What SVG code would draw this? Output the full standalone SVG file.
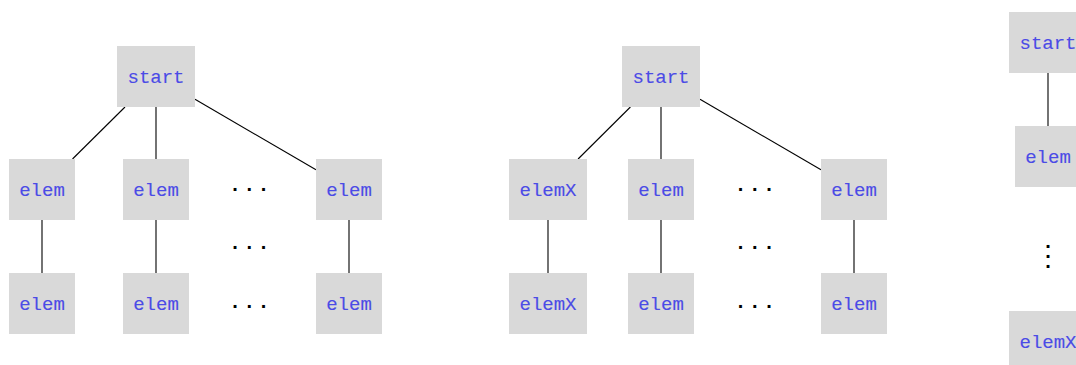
<svg xmlns="http://www.w3.org/2000/svg" width="1076" height="365" viewBox="0 0 1076 365">
  <style>
    .box { fill: #d9d9d9; stroke: none; }
    .lbl { font-family: "Liberation Mono", "Courier New", monospace; font-size: 19px; fill: #4b4be6; stroke: #4b4be6; stroke-width: 0.12; text-anchor: middle; }
    .edge { stroke: #000; stroke-width: 1.1; fill: none; }
    .dots { font-family: "Liberation Sans", Arial, sans-serif; font-size: 20px; font-weight: bold; fill: #000; text-anchor: middle; }
  </style>
  <rect width="1076" height="365" fill="#fff"/>

  <!-- connectors -->
  <g id="connectors" class="edge">
    <!-- left tree -->
    <line x1="125" y1="107" x2="72.5" y2="159"/>
    <line x1="156" y1="107" x2="156" y2="159"/>
    <line x1="195" y1="99.2" x2="316" y2="169.8"/>
    <line x1="42" y1="220" x2="42" y2="273"/>
    <line x1="156" y1="220" x2="156" y2="273"/>
    <line x1="349" y1="220" x2="349" y2="273"/>
    <!-- middle tree -->
    <line x1="630.4" y1="107" x2="578.1" y2="159"/>
    <line x1="661" y1="107" x2="661" y2="159"/>
    <line x1="700" y1="99.2" x2="821" y2="169.8"/>
    <line x1="548" y1="220" x2="548" y2="273"/>
    <line x1="661" y1="220" x2="661" y2="273"/>
    <line x1="854" y1="220" x2="854" y2="273"/>
    <!-- right chain -->
    <line x1="1048" y1="73" x2="1048" y2="126"/>
  </g>

  <!-- left tree -->
  <g id="L-start"><rect class="box" x="117" y="46" width="78" height="61"/><text class="lbl" x="156" y="82.8">start</text></g>
  <g id="L-a1"><rect class="box" x="9" y="159" width="66" height="61"/><text class="lbl" x="42" y="195.8">elem</text></g>
  <g id="L-b1"><rect class="box" x="123" y="159" width="66" height="61"/><text class="lbl" x="156" y="195.8">elem</text></g>
  <g id="L-c1"><rect class="box" x="316" y="159" width="66" height="61"/><text class="lbl" x="349" y="195.8">elem</text></g>
  <g id="L-a2"><rect class="box" x="9" y="273" width="66" height="61"/><text class="lbl" x="42" y="309.8">elem</text></g>
  <g id="L-b2"><rect class="box" x="123" y="273" width="66" height="61"/><text class="lbl" x="156" y="309.8">elem</text></g>
  <g id="L-c2"><rect class="box" x="316" y="273" width="66" height="61"/><text class="lbl" x="349" y="309.8">elem</text></g>
  <g id="L-dots">
    <text class="dots" x="235 249.3 263.5" y="190.5">...</text>
    <text class="dots" x="235 249.3 263.5" y="249.2">...</text>
    <text class="dots" x="235 249.3 263.5" y="308.2">...</text>
  </g>

  <!-- middle tree -->
  <g id="M-start"><rect class="box" x="622" y="46" width="78" height="61"/><text class="lbl" x="661" y="82.8">start</text></g>
  <g id="M-a1"><rect class="box" x="509" y="159" width="78" height="61"/><text class="lbl" x="548" y="195.8">elemX</text></g>
  <g id="M-b1"><rect class="box" x="628" y="159" width="66" height="61"/><text class="lbl" x="661" y="195.8">elem</text></g>
  <g id="M-c1"><rect class="box" x="821" y="159" width="66" height="61"/><text class="lbl" x="854" y="195.8">elem</text></g>
  <g id="M-a2"><rect class="box" x="509" y="273" width="78" height="61"/><text class="lbl" x="548" y="309.8">elemX</text></g>
  <g id="M-b2"><rect class="box" x="628" y="273" width="66" height="61"/><text class="lbl" x="661" y="309.8">elem</text></g>
  <g id="M-c2"><rect class="box" x="821" y="273" width="66" height="61"/><text class="lbl" x="854" y="309.8">elem</text></g>
  <g id="M-dots">
    <text class="dots" x="740.5 754.8 769" y="190.5">...</text>
    <text class="dots" x="740.5 754.8 769" y="249.2">...</text>
    <text class="dots" x="740.5 754.8 769" y="308.2">...</text>
  </g>

  <!-- right chain -->
  <g id="R-start"><rect class="box" x="1009" y="12" width="78" height="61"/><text class="lbl" x="1048" y="48.8">start</text></g>
  <g id="R-elem"><rect class="box" x="1015" y="126" width="66" height="61"/><text class="lbl" x="1048" y="162.8">elem</text></g>
  <g id="R-vdots"><text class="dots" x="1048 1048 1048" y="247.5 257.5 268.2">...</text></g>
  <g id="R-elemX"><rect class="box" x="1009" y="311" width="78" height="61"/><text class="lbl" x="1048" y="347.8">elemX</text></g>
</svg>
